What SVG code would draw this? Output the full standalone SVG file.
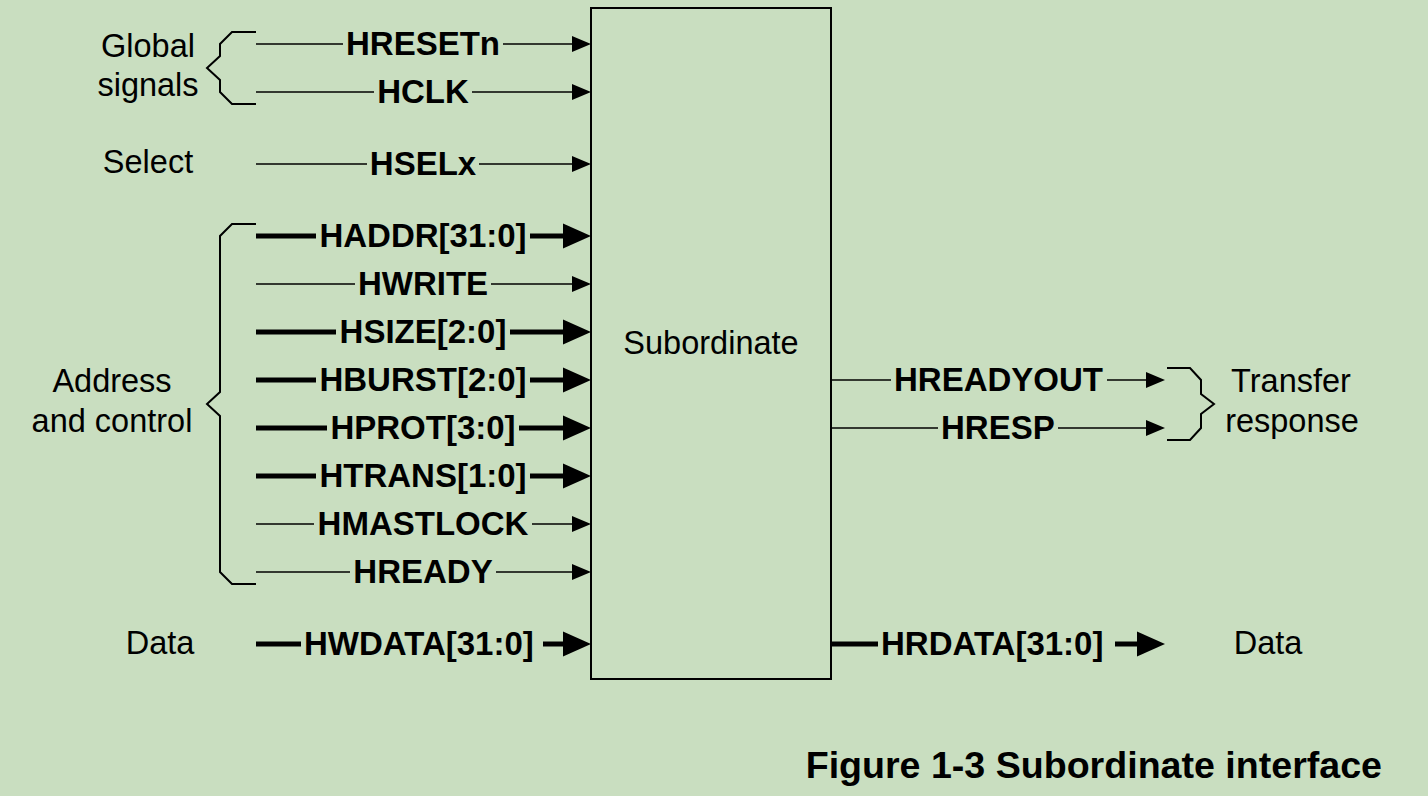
<svg xmlns="http://www.w3.org/2000/svg" width="1428" height="796" viewBox="0 0 1428 796">
<style>
.bg{fill:#c9dec0}
.box{fill:none;stroke:#000;stroke-width:2}
.thin{stroke:#000;stroke-width:1.6;fill:none}
.thick{stroke:#000;stroke-width:5;fill:none}
.brace{stroke:#000;stroke-width:2;fill:none;stroke-linejoin:miter}
.sig{font-family:"Liberation Sans",Arial,sans-serif;font-weight:bold;font-size:33px;fill:#000;text-anchor:middle}
.sigs{font-family:"Liberation Sans",Arial,sans-serif;font-weight:bold;font-size:33px;fill:#000}
.lbl{font-family:"Liberation Sans",Arial,sans-serif;font-size:32.5px;fill:#000;text-anchor:middle}
.title{font-family:"Liberation Sans",Arial,sans-serif;font-weight:bold;font-size:37.6px;fill:#000;text-anchor:end}
</style>
<defs>
<marker id="aThin" markerUnits="userSpaceOnUse" markerWidth="20" markerHeight="18" refX="8" refY="8" orient="auto" overflow="visible">
<path d="M0,0 L19,8 L0,16 Z" fill="#000"/>
</marker>
<marker id="aThick" markerUnits="userSpaceOnUse" markerWidth="30" markerHeight="26" refX="7" refY="12.5" orient="auto" overflow="visible">
<path d="M0,0 L28,12.5 L0,25 Z" fill="#000"/>
</marker>
</defs>
<rect class="bg" x="0" y="0" width="1428" height="796"/>

<g id="subordinate">
<rect class="box" x="591" y="8" width="240" height="671"/>
<text class="lbl" x="711" y="354">Subordinate</text>
</g>

<g id="group-labels">
<text class="lbl" x="148" y="57">Global</text>
<text class="lbl" x="148" y="96">signals</text>
<text class="lbl" x="148" y="173">Select</text>
<text class="lbl" x="112" y="392">Address</text>
<text class="lbl" x="112" y="432">and control</text>
<text class="lbl" x="160" y="654">Data</text>
<text class="lbl" x="1291" y="392">Transfer</text>
<text class="lbl" x="1292" y="432">response</text>
<text class="lbl" x="1268" y="654">Data</text>
</g>

<g id="braces">
<path class="brace" d="M256,32 H232 L220,44 V56 L207,68 L220,80 V92 L232,104 H256"/>
<path class="brace" d="M256,224 H232 L220,236 V392 L207,404 L220,416 V572 L232,584 H256"/>
<path class="brace" d="M1167,368 H1190 L1201,380 V394 L1214,404 L1201,414 V428 L1190,440 H1167"/>
</g>

<g id="signal-labels">
<text class="sig" x="423" y="55">HRESETn</text>
<text class="sig" x="423" y="103">HCLK</text>
<text class="sig" x="423" y="175">HSELx</text>
<text class="sig" x="423" y="247">HADDR[31:0]</text>
<text class="sig" x="423" y="295">HWRITE</text>
<text class="sig" x="423" y="343">HSIZE[2:0]</text>
<text class="sig" x="423" y="391">HBURST[2:0]</text>
<text class="sig" x="423" y="439">HPROT[3:0]</text>
<text class="sig" x="423" y="487">HTRANS[1:0]</text>
<text class="sig" x="423" y="535">HMASTLOCK</text>
<text class="sig" x="423" y="583">HREADY</text>
<text class="sigs" x="304" y="655">HWDATA[31:0]</text>
<text class="sigs" x="894" y="391">HREADYOUT</text>
<text class="sigs" x="941" y="439">HRESP</text>
<text class="sigs" x="881" y="655">HRDATA[31:0]</text>
</g>

<g id="connectors">
<path class="thin" d="M256,44 H343"/><path class="thin" d="M503,44 H580" marker-end="url(#aThin)"/>
<path class="thin" d="M256,92 H374"/><path class="thin" d="M472,92 H580" marker-end="url(#aThin)"/>
<path class="thin" d="M256,164 H367"/><path class="thin" d="M479,164 H580" marker-end="url(#aThin)"/>
<path class="thick" d="M256,236 H316"/><path class="thick" d="M530,236 H570" marker-end="url(#aThick)"/>
<path class="thin" d="M256,284 H355"/><path class="thin" d="M491,284 H580" marker-end="url(#aThin)"/>
<path class="thick" d="M256,332 H336"/><path class="thick" d="M510,332 H570" marker-end="url(#aThick)"/>
<path class="thick" d="M256,380 H316"/><path class="thick" d="M530,380 H570" marker-end="url(#aThick)"/>
<path class="thick" d="M256,428 H327"/><path class="thick" d="M519,428 H570" marker-end="url(#aThick)"/>
<path class="thick" d="M256,476 H316"/><path class="thick" d="M530,476 H570" marker-end="url(#aThick)"/>
<path class="thin" d="M256,524 H314"/><path class="thin" d="M532,524 H580" marker-end="url(#aThin)"/>
<path class="thin" d="M256,572 H350"/><path class="thin" d="M496,572 H580" marker-end="url(#aThin)"/>
<path class="thick" d="M256,644 H301"/><path class="thick" d="M543,644 H570" marker-end="url(#aThick)"/>
<path class="thin" d="M831,380 H891"/><path class="thin" d="M1107,380 H1154" marker-end="url(#aThin)"/>
<path class="thin" d="M831,428 H938"/><path class="thin" d="M1058,428 H1154" marker-end="url(#aThin)"/>
<path class="thick" d="M831,644 H878"/><path class="thick" d="M1115,644 H1144" marker-end="url(#aThick)"/>
</g>

<g id="caption">
<text class="title" x="1382" y="778">Figure 1-3 Subordinate interface</text>
</g>
</svg>
